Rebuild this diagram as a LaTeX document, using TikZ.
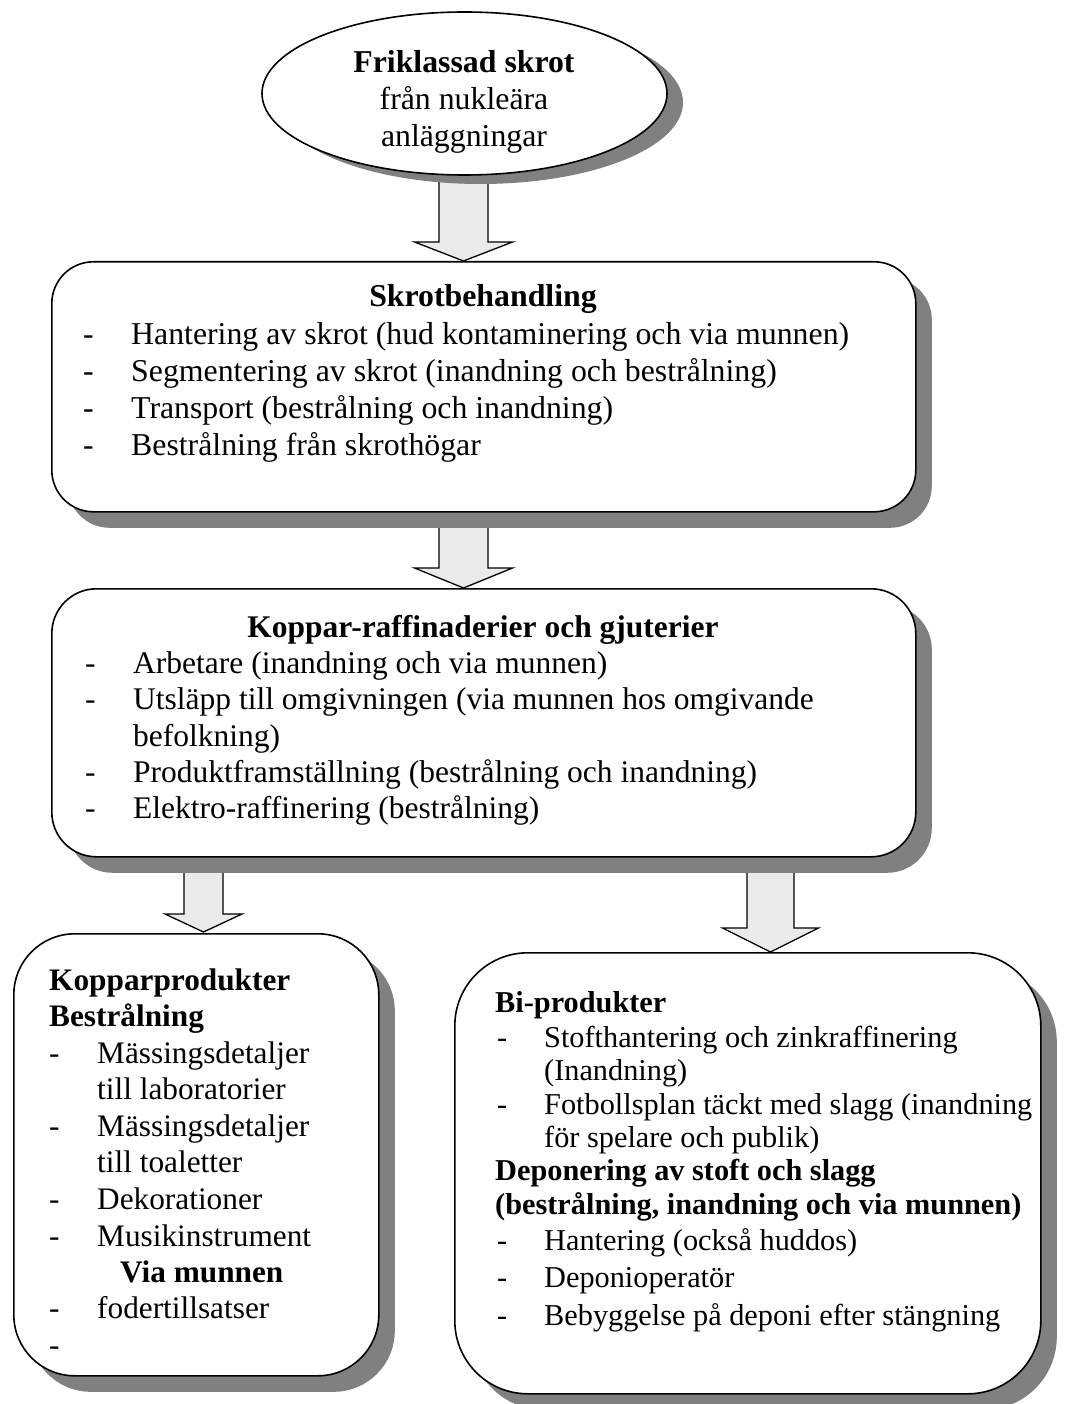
\documentclass[tikz,border=0pt]{standalone}
\usepackage{fontspec}
\setmainfont{Liberation Serif}
\usetikzlibrary{shapes.geometric,shadows,calc}
\definecolor{shadowgray}{RGB}{128,128,128}
\definecolor{arrowfill}{RGB}{234,234,234}
\tikzset{
  boxshape/.style={draw=black, line width=1.6pt, fill=white, rounded corners=#1,
    anchor=north west, inner sep=0pt,
    drop shadow={shadow xshift=16pt, shadow yshift=-16pt, fill=shadowgray, opacity=1}},
  ellshape/.style={ellipse, draw=black, line width=1.6pt, fill=white, inner sep=0pt,
    drop shadow={shadow xshift=16pt, shadow yshift=-9pt, fill=shadowgray, opacity=1}},
  arrowstyle/.style={draw=black, line width=1.3pt, fill=arrowfill, line join=miter},
  lt/.style={anchor=base west, inner sep=0pt},
  ctr/.style={anchor=base, inner sep=0pt},
  fA/.style={font=\fontsize{31.8}{36.5}\selectfont},
  fB/.style={font=\fontsize{31.5}{36}\selectfont},
  fC/.style={font=\fontsize{31.3}{36}\selectfont},
  fD/.style={font=\fontsize{30.3}{34.5}\selectfont},
}
\newcommand\blockarrow[5]{%
  \draw[arrowstyle] let \p1=(#1), \p2=(#2) in
   (\x2-#3,\y1) -- (\x2-#3,\y2+#5) -- (\x2-#4,\y2+#5) -- (\x2,\y2)
   -- (\x2+#4,\y2+#5) -- (\x2+#3,\y2+#5) -- (\x2+#3,\y1) -- cycle;}
\begin{document}
\begin{tikzpicture}[x=1pt,y=-1pt]
\useasboundingbox[fill=white] (0,0) rectangle (1074,1404);

% arrow end points
\coordinate (a1s) at (463.5,175); \coordinate (a1t) at (463.5,261);
\coordinate (a2s) at (463.5,505); \coordinate (a2t) at (463.5,588);
\coordinate (a3s) at (203.5,850); \coordinate (a3t) at (203.5,932);
\coordinate (a4s) at (770.5,850); \coordinate (a4t) at (770.5,952);

% block arrows (behind shapes and shadows)
\blockarrow{a1s}{a1t}{24.5pt}{49pt}{19pt}
\blockarrow{a2s}{a2t}{24.5pt}{49pt}{20pt}
\blockarrow{a3s}{a3t}{19.5pt}{38.5pt}{18pt}
\blockarrow{a4s}{a4t}{23.5pt}{48pt}{24pt}

% shapes
\node[ellshape, minimum width=405pt, minimum height=163pt] (src) at (464.5,93.5) {};
\node[boxshape=41.7pt, minimum width=864pt, minimum height=250pt] (b1) at (51,261) {};
\node[boxshape=44.7pt, minimum width=864pt, minimum height=268pt] (b2) at (51,588) {};
\node[boxshape=61pt, minimum width=365pt, minimum height=442pt] (b3) at (13,933) {};
\node[boxshape=73pt, minimum width=586pt, minimum height=441pt] (b4) at (454,952) {};

% ellipse text
\node[ctr,fA] (e1) at (464,73) {\textbf{Friklassad skrot}};
\node[ctr,fA] (e2) at (464,110) {från nukleära};
\node[ctr,fA] (e3) at (464,147) {anläggningar};

% box 1
\node[ctr,fA] (h1) at (483,307) {\textbf{Skrotbehandling}};
\node[lt,fA] (d1a) at (83,344) {-}; \node[lt,fA] (t1a) at (131,344) {Hantering av skrot (hud kontaminering och via munnen)};
\node[lt,fA] (d1b) at (83,381) {-}; \node[lt,fA] (t1b) at (131,381) {Segmentering av skrot (inandning och bestrålning)};
\node[lt,fA] (d1c) at (83,418) {-}; \node[lt,fA] (t1c) at (131,418) {Transport (bestrålning och inandning)};
\node[lt,fA] (d1d) at (83,455) {-}; \node[lt,fA] (t1d) at (131,455) {Bestrålning från skrothögar};

% box 2
\node[ctr,fB] (h2) at (483,637) {\textbf{Koppar-raffinaderier och gjuterier}};
\node[lt,fB] (d2a) at (85,673) {-}; \node[lt,fB] (t2a) at (133,673) {Arbetare (inandning och via munnen)};
\node[lt,fB] (d2b) at (85,709) {-}; \node[lt,fB] (t2b) at (133,709) {Utsläpp till omgivningen (via munnen hos omgivande};
\node[lt,fB] (t2c) at (133,746) {befolkning)};
\node[lt,fB] (d2d) at (85,782) {-}; \node[lt,fB] (t2d) at (133,782) {Produktframställning (bestrålning och inandning)};
\node[lt,fB] (d2e) at (85,818) {-}; \node[lt,fB] (t2e) at (133,818) {Elektro-raffinering (bestrålning)};

% box 3
\node[lt,fC] (h3a) at (49,990) {\textbf{Kopparprodukter}};
\node[lt,fC] (h3b) at (49,1026) {\textbf{Bestrålning}};
\node[lt,fC] (d3a) at (49,1063) {-}; \node[lt,fC] (t3a) at (97,1063) {Mässingsdetaljer};
\node[lt,fC] (t3b) at (97,1099) {till laboratorier};
\node[lt,fC] (d3c) at (49,1136) {-}; \node[lt,fC] (t3c) at (97,1136) {Mässingsdetaljer};
\node[lt,fC] (t3d) at (97,1172) {till toaletter};
\node[lt,fC] (d3e) at (49,1209) {-}; \node[lt,fC] (t3e) at (97,1209) {Dekorationer};
\node[lt,fC] (d3f) at (49,1246) {-}; \node[lt,fC] (t3f) at (97,1246) {Musikinstrument};
\node[lt,fC] (h3c) at (120,1282) {\textbf{Via munnen}};
\node[lt,fC] (d3g) at (49,1318) {-}; \node[lt,fC] (t3g) at (97,1318) {fodertillsatser};
\node[lt,fC] (d3h) at (49,1355) {-};

% box 4
\node[lt,fD] (h4a) at (495,1012) {\textbf{Bi-produkter}};
\node[lt,fD] (d4a) at (497,1047) {-}; \node[lt,fD] (t4a) at (544,1047) {Stofthantering och zinkraffinering};
\node[lt,fD] (t4b) at (544,1080) {(Inandning)};
\node[lt,fD] (d4c) at (497,1114) {-}; \node[lt,fD] (t4c) at (544,1114) {Fotbollsplan täckt med slagg (inandning};
\node[lt,fD] (t4d) at (544,1147) {för spelare och publik)};
\node[lt,fD] (h4b) at (495,1180) {\textbf{Deponering av stoft och slagg}};
\node[lt,fD] (h4c) at (495,1214) {\textbf{(bestrålning, inandning och via munnen)}};
\node[lt,fD] (d4e) at (497,1250) {-}; \node[lt,fD] (t4e) at (544,1250) {Hantering (också huddos)};
\node[lt,fD] (d4f) at (497,1287) {-}; \node[lt,fD] (t4f) at (544,1287) {Deponioperatör};
\node[lt,fD] (d4g) at (497,1325) {-}; \node[lt,fD] (t4g) at (544,1325) {Bebyggelse på deponi efter stängning};
\end{tikzpicture}
\end{document}
